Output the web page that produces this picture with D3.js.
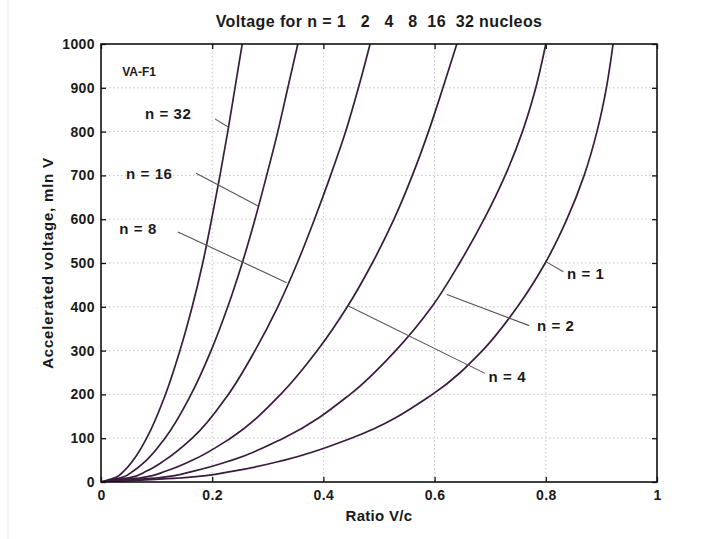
<!DOCTYPE html>
<html><head><meta charset="utf-8">
<script src="https://cdn.jsdelivr.net/npm/d3@7"></script>
<style>
body{margin:0;background:#fff}
svg{display:block}
text{font-family:"Liberation Sans",Arial,sans-serif;font-weight:bold;fill:#1a1a1a}
</style>
</head><body><svg id="c" width="714" height="539"></svg>
<script>
// ---- data ----
const voltageLevels = [0,10,25,50,100,200,300,400,500,600,700,800,900,1000];
const ratioN32 = [0,0.026,0.041,0.058,0.082,0.116,0.142,0.164,0.183,0.199,0.214,0.228,0.241,0.254];
const ratioN16 = [0,0.037,0.058,0.082,0.115,0.162,0.198,0.228,0.254,0.277,0.298,0.318,0.336,0.354];
const ratioN8  = [0,0.052,0.082,0.115,0.164,0.229,0.277,0.318,0.353,0.384,0.413,0.440,0.463,0.484];
const ratioN4  = [0,0.074,0.117,0.165,0.233,0.323,0.389,0.443,0.488,0.527,0.560,0.589,0.615,0.640];
const ratioN2  = [0,0.106,0.167,0.236,0.328,0.448,0.530,0.595,0.645,0.689,0.727,0.758,0.782,0.800];
const ratioN1  = [0,0.151,0.238,0.330,0.450,0.596,0.686,0.749,0.799,0.838,0.869,0.892,0.909,0.921];
const seriesNames = ["n = 32","n = 16","n = 8","n = 4","n = 2","n = 1"];
const seriesRatios = [ratioN32,ratioN16,ratioN8,ratioN4,ratioN2,ratioN1];

const xTicks = [0,0.2,0.4,0.6,0.8,1];
const xTickLabels = ["0","0.2","0.4","0.6","0.8","1"];
const yTicks = [0,100,200,300,400,500,600,700,800,900,1000];
const yTickLabels = ["0","100","200","300","400","500","600","700","800","900","1000"];

const titleText = "Voltage for n = 1   2   4   8  16  32 nucleos";
const xLabelText = "Ratio V/c";
const yLabelText = "Accelerated voltage, mln V";
const tagText = "VA-F1";

// annotation labels: text anchor point and leader line, in data units
const labelText   = ["n = 32","n = 16","n = 8","n = 4","n = 2","n = 1"];
const labelX      = [0.079, 0.045, 0.033, 0.697, 0.784, 0.838];
const labelV      = [842, 705, 579, 242, 358, 476];
const leaderFromX = [0.205, 0.171, 0.1385, 0.6906, 0.770, 0.8315];
const leaderFromV = [829, 705, 571, 248, 357, 480];
const leaderToX   = [0.228, 0.2824, 0.334, 0.445, 0.622, 0.8016];
const leaderToV   = [811, 630, 455, 402, 428, 502];

// ---- layout ----
const L=101, R=657, T=44, B=482;
const svg = d3.select("#c");
const x = d3.scaleLinear().domain([0,1]).range([L,R]);
const y = d3.scaleLinear().domain([0,1000]).range([B,T]);

svg.append("line").attr("x1",8).attr("x2",8).attr("y1",0).attr("y2",539)
  .attr("stroke","#e8e8e8").attr("stroke-width",1);

// grid
const grid = svg.append("g").attr("stroke","#c4c4c4").attr("stroke-width",1).attr("stroke-dasharray","1.5,2.5");
grid.selectAll("line.gx").data(xTicks.slice(1,-1)).enter().append("line")
  .attr("x1",d=>x(d)).attr("x2",d=>x(d)).attr("y1",T).attr("y2",B);
grid.selectAll("line.gy").data(yTicks.slice(1,-1)).enter().append("line")
  .attr("x1",L).attr("x2",R).attr("y1",d=>y(d)).attr("y2",d=>y(d));

// axes
const fmtX = (d)=>xTickLabels[xTicks.indexOf(d)];
const fmtY = (d)=>yTickLabels[yTicks.indexOf(d)];
const gx = svg.append("g").attr("transform",`translate(0,${B})`)
  .call(d3.axisBottom(x).tickValues(xTicks).tickFormat(fmtX).tickSizeInner(-5).tickSizeOuter(0).tickPadding(8));
const gy = svg.append("g").attr("transform",`translate(${L},0)`)
  .call(d3.axisLeft(y).tickValues(yTicks).tickFormat(fmtY).tickSizeInner(-5).tickSizeOuter(0).tickPadding(6));
const gt = svg.append("g").attr("transform",`translate(0,${T})`)
  .call(d3.axisTop(x).tickValues(xTicks).tickFormat("").tickSizeInner(-5).tickSizeOuter(0));
const gr = svg.append("g").attr("transform",`translate(${R},0)`)
  .call(d3.axisRight(y).tickValues(yTicks).tickFormat("").tickSizeInner(-5).tickSizeOuter(0));
[gx,gy,gt,gr].forEach(g=>{
  g.select(".domain").remove();
  g.selectAll(".tick line").attr("stroke","#111").attr("stroke-width",1.3);
  g.selectAll("text").attr("font-size",14).attr("font-family",null).attr("fill","#1a1a1a")
    .attr("letter-spacing",0.4);
});

// curves
svg.append("clipPath").attr("id","clip").append("rect")
  .attr("x",L).attr("y",T).attr("width",R-L).attr("height",B-T);
const line = d3.line().x(d=>x(d[0])).y(d=>y(d[1])).curve(d3.curveMonotoneY);
svg.append("g").attr("clip-path","url(#clip)").selectAll("path")
  .data(seriesRatios).enter().append("path")
  .attr("d",r=>line(r.map((v,i)=>[v,voltageLevels[i]])))
  .attr("fill","none").attr("stroke","#3a1c3e").attr("stroke-width",1.7);

// frame
svg.append("rect").attr("x",L).attr("y",T).attr("width",R-L).attr("height",B-T)
  .attr("fill","none").attr("stroke","#111").attr("stroke-width",1.6);

// leaders and labels
const ann = svg.append("g");
labelText.forEach((t,i)=>{
  ann.append("line")
    .attr("x1",x(leaderFromX[i])).attr("y1",y(leaderFromV[i]))
    .attr("x2",x(leaderToX[i])).attr("y2",y(leaderToV[i]))
    .attr("stroke","#555").attr("stroke-width",1.1);
  ann.append("text").attr("x",x(labelX[i])).attr("y",y(labelV[i]))
    .attr("dominant-baseline","central").attr("font-size",15).attr("letter-spacing",0.6).text(t);
});

svg.append("text").attr("x",x(0.038)).attr("y",y(935)).attr("dominant-baseline","central")
  .attr("font-size",12).attr("font-weight","normal").attr("fill","#444").text(tagText);

// titles
svg.append("text").attr("x",(L+R)/2).attr("y",27).attr("text-anchor","middle")
  .attr("font-size",16).attr("letter-spacing",0.4).style("white-space","pre").text(titleText);
svg.append("text").attr("x",(L+R)/2).attr("y",521).attr("text-anchor","middle")
  .attr("font-size",15).attr("letter-spacing",0.3).text(xLabelText);
svg.append("text").attr("transform",`translate(53,${(T+B)/2}) rotate(-90)`).attr("text-anchor","middle")
  .attr("font-size",15).attr("letter-spacing",0.8).text(yLabelText);
</script></body></html>
